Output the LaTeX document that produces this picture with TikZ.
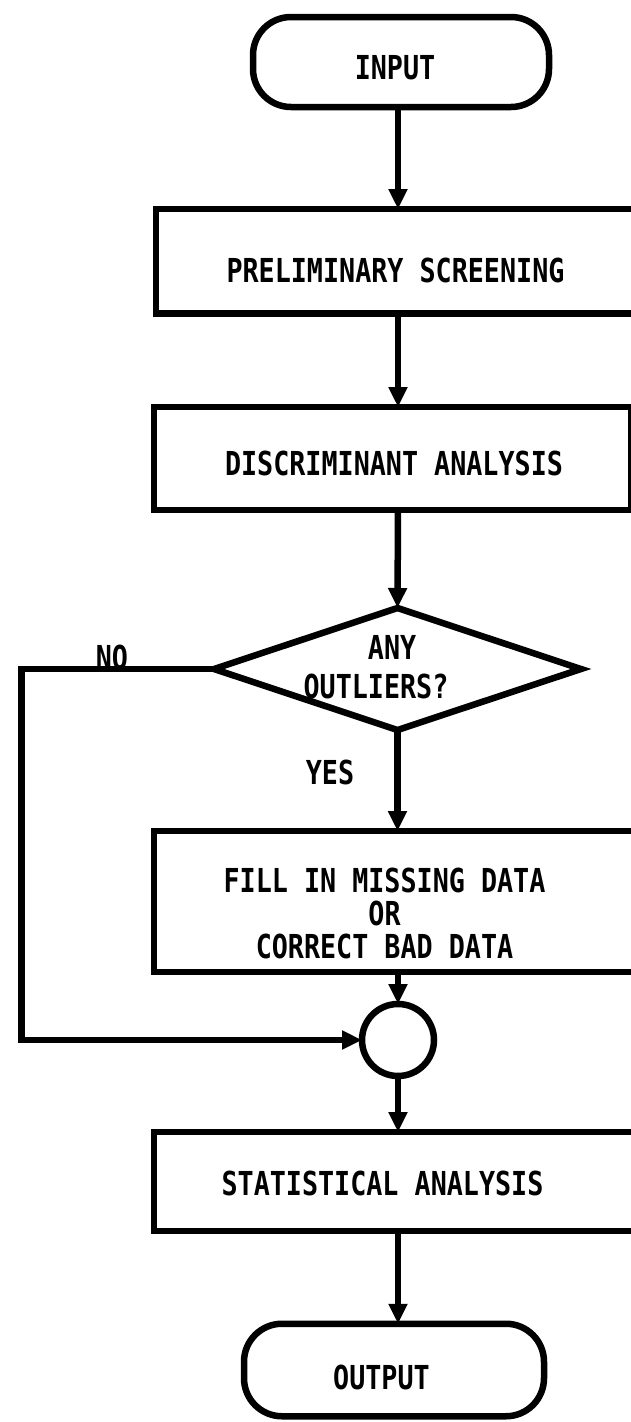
\documentclass[tikz,border=0pt]{standalone}
\usepackage{fontspec}
\newfontfamily\flowfont[FakeStretch=0.81]{DejaVu Sans Mono}
\usetikzlibrary{arrows.meta,shapes.geometric}

\begin{document}
\begin{tikzpicture}[x=1pt,y=-1pt,
  line width=6.5pt,
  every node/.style={inner sep=0pt, outer sep=0pt},
  lbl/.style={font=\flowfont\bfseries\fontsize{33}{33}\selectfont, align=center},
  term/.style={draw, rectangle, rounded corners=38pt},
  procbox/.style={draw, rectangle},
  decision/.style={draw, diamond, minimum width=367pt, minimum height=122pt},
  joint/.style={draw, circle, minimum size=72pt},
  flow/.style={-{Triangle[length=20pt,width=18pt]}}
]
% page
\fill[white] (0,0) rectangle (630,1422);
\useasboundingbox (0,0) rectangle (630,1422);

% main flow axis and left return line
\coordinate (axis) at (398,0);
\coordinate (loopx) at (21.5,0);

% shapes (the process boxes run on past the right margin)
\node[term, minimum width=296pt, minimum height=90pt] (in) at (401,62) {};
\node[procbox, minimum width=480pt, minimum height=104.5pt] (prelim) at (396,261.25) {};
\node[procbox, minimum width=477pt, minimum height=103pt] (disc) at (392.5,458.5) {};
\node[decision] (dec) at (397.5,669) {};
\node[procbox, minimum width=480pt, minimum height=141pt] (fix) at (394,901.5) {};
\node[joint] (jn) at (398,1040) {};
\node[procbox, minimum width=480pt, minimum height=99pt] (stat) at (394,1181.5) {};
\node[term, minimum width=300pt, minimum height=92.5pt] (out) at (394,1370) {};

% texts
\node[lbl] (inT) at (395,68) {INPUT};
\node[lbl] (prelimT) at (395.5,270) {PRELIMINARY SCREENING};
\node[lbl] (discT) at (394,463) {DISCRIMINANT ANALYSIS};
\node[lbl, align=left] (decT) at (376,667.5) {\hphantom{OUTL}ANY\\[6pt]OUTLIERS?};
\node[lbl] (yes) at (330,772) {YES};
\node[lbl] (no) at (112,657) {NO};
\node[lbl] (fixT) at (384.5,913.5) {FILL IN MISSING DATA\\OR\\CORRECT BAD DATA};
\node[lbl] (statT) at (382.5,1183) {STATISTICAL ANALYSIS};
\node[lbl] (outT) at (381.5,1377) {OUTPUT};

% connectors
\draw[flow] (in.south -| axis) -- (prelim.north -| axis);
\draw[flow] (prelim.south -| axis) -- (disc.north -| axis);
\draw[flow] (disc.south -| axis) -- (dec.north);
\draw[flow] (dec.south) -- (fix.north -| dec.south);
\draw[flow] (fix.south -| axis) -- (jn.north);
\draw[flow] (dec.west) -- (dec.west -| loopx) -- (loopx |- jn.west) -- (jn.west);
\draw[flow] (jn.south) -- (stat.north -| axis);
\draw[flow] (stat.south -| axis) -- (out.north -| axis);
\end{tikzpicture}
\end{document}
